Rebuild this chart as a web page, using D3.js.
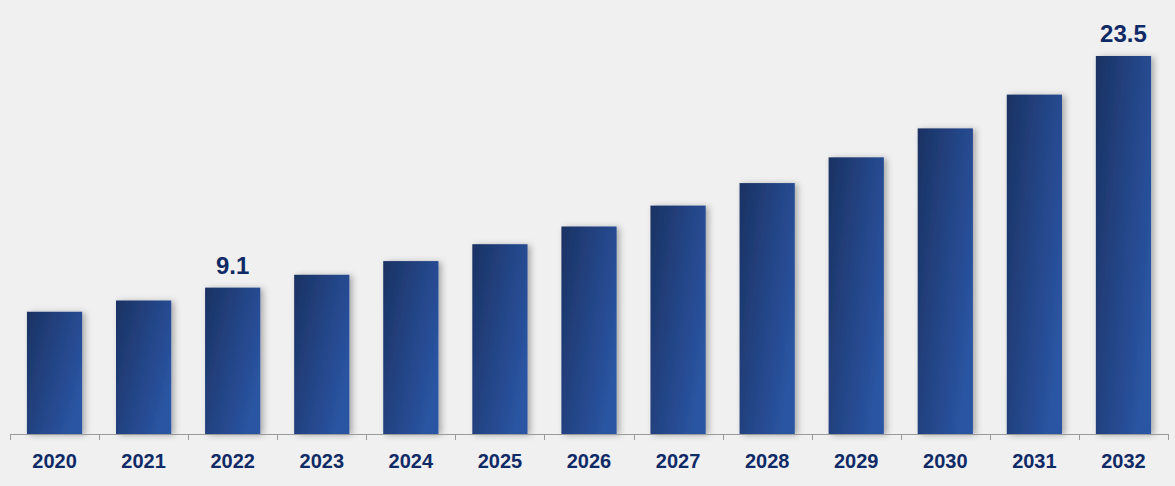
<!DOCTYPE html>
<html>
<head>
<meta charset="utf-8">
<style>
body { margin: 0; background: #f0f0f0; }
svg { display: block; }
.lbl { font-family: "Liberation Sans", Arial, sans-serif; font-weight: bold; fill: #0f2a66; }
</style>
</head>
<body>
<svg width="1175" height="486"></svg>
<script src="https://cdn.jsdelivr.net/npm/d3@7"></script>
<script>
var years = ["2020","2021","2022","2023","2024","2025","2026","2027","2028","2029","2030","2031","2032"];
var values = [7.6, 8.3, 9.1, 9.9, 10.75, 11.8, 12.9, 14.2, 15.6, 17.2, 19.0, 21.1, 23.5];
var shownLabels = {"2022": "9.1", "2032": "23.5"};

var svg = d3.select("svg"),
    baseY = 434,
    left = 10,
    right = 1168;

svg.append("rect").attr("width", 1175).attr("height", 486).attr("fill", "#f0f0f0");

var defs = svg.append("defs");
var grad = defs.append("linearGradient")
    .attr("id", "barGrad")
    .attr("x1", "0%").attr("y1", "0%")
    .attr("x2", "100%").attr("y2", "60%");
grad.append("stop").attr("offset", "0%").attr("stop-color", "#1b3263");
grad.append("stop").attr("offset", "100%").attr("stop-color", "#2a54a2");

var shadow = defs.append("filter").attr("id", "shadow")
    .attr("x", "-20%").attr("y", "-10%").attr("width", "150%").attr("height", "120%");
shadow.append("feDropShadow")
    .attr("dx", 3).attr("dy", 1).attr("stdDeviation", 3)
    .attr("flood-color", "#000").attr("flood-opacity", 0.3);

var x = d3.scaleBand()
    .domain(years)
    .range([left, right])
    .paddingInner(0.38)
    .paddingOuter(0.19);

var y = d3.scaleLinear()
    .domain([0, 23.5])
    .range([baseY, 56]);

svg.selectAll(".bar")
  .data(years)
  .enter().append("rect")
    .attr("class", "bar")
    .attr("x", function(d) { return x(d); })
    .attr("y", function(d, i) { return y(values[i]); })
    .attr("width", x.bandwidth())
    .attr("height", function(d, i) { return baseY - y(values[i]); })
    .attr("fill", "url(#barGrad)")
    .attr("filter", "url(#shadow)");

// axis line with ticks between categories
var axis = svg.append("g").attr("stroke", "#9a9a9a").attr("stroke-width", 1);
axis.append("line")
    .attr("x1", left).attr("x2", right)
    .attr("y1", baseY + 0.5).attr("y2", baseY + 0.5);
var edges = years.map(function(d) { return x(d) - x.step() * x.paddingInner() / 2; });
edges.push(right);
edges[0] = left;
axis.selectAll(".tick")
  .data(edges)
  .enter().append("line")
    .attr("x1", function(d) { return Math.round(d) + 0.5; })
    .attr("x2", function(d) { return Math.round(d) + 0.5; })
    .attr("y1", baseY).attr("y2", baseY + 6);

svg.selectAll(".year")
  .data(years)
  .enter().append("text")
    .attr("class", "lbl")
    .attr("x", function(d) { return x(d) + x.bandwidth() / 2; })
    .attr("y", 468)
    .attr("text-anchor", "middle")
    .style("font-size", "20px")
    .text(function(d) { return d; });

svg.selectAll(".val")
  .data(years.filter(function(d) { return shownLabels[d]; }))
  .enter().append("text")
    .attr("class", "lbl")
    .attr("x", function(d) { return x(d) + x.bandwidth() / 2; })
    .attr("y", function(d) { return y(values[years.indexOf(d)]) - 14; })
    .attr("text-anchor", "middle")
    .style("font-size", "24px")
    .text(function(d) { return shownLabels[d]; });
</script>
</body>
</html>
